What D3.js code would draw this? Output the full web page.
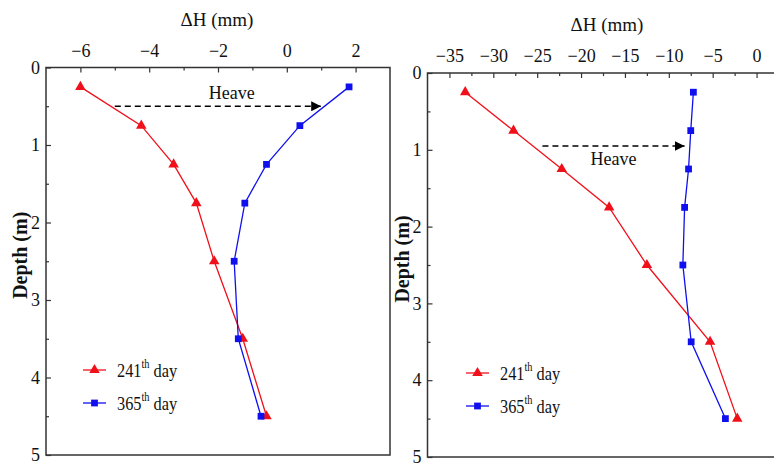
<!DOCTYPE html>
<html>
<head>
<meta charset="utf-8">
<script src="https://cdn.jsdelivr.net/npm/d3@7"></script>
<style>
  html, body { margin: 0; padding: 0; background: #fff; }
  svg { display: block; }
  svg text { font-family: "Liberation Serif", Tinos, "Times New Roman", "DejaVu Serif", serif !important; fill: #111; }
</style>
</head>
<body>
<svg id="chart" width="774" height="464"></svg>
<script>
// ---- data ----
const depths = [0.25, 0.75, 1.25, 1.75, 2.5, 3.5, 4.5];
const leftDay241 = [-6.0, -4.23, -3.29, -2.63, -2.11, -1.28, -0.59];
const leftDay365 = [1.81, 0.38, -0.59, -1.22, -1.53, -1.41, -0.75];
const rightDay241 = [-33.2, -27.7, -22.2, -16.8, -12.5, -5.3, -2.2];
const rightDay365 = [-7.2, -7.5, -7.75, -8.2, -8.4, -7.45, -3.55];
const leftXTicks = [-6, -4, -2, 0, 2];
const leftXMinor = [-7, -5, -3, -1, 1, 3];
const rightXTicks = [-35, -30, -25, -20, -15, -10, -5, 0];
const rightXMinor = [-32.5, -27.5, -22.5, -17.5, -12.5, -7.5, -2.5];
const yTicks = [0, 1, 2, 3, 4, 5];
const yMinor = [0.5, 1.5, 2.5, 3.5, 4.5];
const seriesNames = ["241", "365"];
const xTitle = "ΔH (mm)";
const yTitle = "Depth (m)";
const heaveLabel = "Heave";
const leftHeave = { x0: -5, x1: 1.0, y: 0.5, tx: -1.6, ty: 0.41 };
const rightHeave = { x0: -24.4, x1: -8.2, y: 0.95, tx: -16.3, ty: 1.2 };

const FONT = '"Liberation Serif", Tinos, "Times New Roman", "DejaVu Serif", serif';
const svg = d3.select("#chart");
const RED = "#f0101a", BLUE = "#1010ee", FRAME = "#333";

svg.append("defs").append("marker")
  .attr("id", "arrow").attr("viewBox", "0 0 10 10")
  .attr("refX", 10).attr("refY", 5)
  .attr("markerWidth", 10).attr("markerHeight", 10)
  .attr("markerUnits", "userSpaceOnUse")
  .attr("orient", "auto")
  .append("path").attr("d", "M0,0 L10,5 L0,10 Z").attr("fill", "#000");

function panel(cfg) {
  const x = d3.scaleLinear().domain(cfg.xDomain).range([cfg.left, cfg.right]);
  const y = d3.scaleLinear().domain([0, 5]).range([cfg.top, cfg.bottom]);
  const g = svg.append("g").attr("font-family", FONT);

  // frame
  g.append("rect").attr("x", cfg.left).attr("y", cfg.top)
    .attr("width", cfg.right - cfg.left).attr("height", cfg.bottom - cfg.top)
    .attr("fill", "none").attr("stroke", FRAME).attr("stroke-width", 1.5);

  // top axis (ticks inward)
  const xAxis = d3.axisTop(x).tickValues(cfg.xTicks).tickSizeInner(-5).tickSizeOuter(0)
    .tickPadding(12).tickFormat(d3.format("d"));
  const xa = g.append("g").attr("transform", `translate(0,${cfg.top})`).call(xAxis)
    .attr("font-family", FONT);
  xa.select(".domain").remove();
  xa.selectAll(".tick line").attr("stroke", FRAME).attr("stroke-width", 1.2);
  xa.selectAll(".tick text").attr("font-size", 18).attr("fill", "#111")
    .attr("dy", 0).attr("y", -cfg.xLabelOffset);
  const xm = d3.axisTop(x).tickValues(cfg.xMinor.filter(v => v > cfg.xDomain[0] && v < cfg.xDomain[1]))
    .tickSizeInner(-3).tickSizeOuter(0).tickFormat("");
  const xma = g.append("g").attr("transform", `translate(0,${cfg.top})`).call(xm);
  xma.select(".domain").remove();
  xma.selectAll(".tick line").attr("stroke", FRAME).attr("stroke-width", 1.2);

  // left axis
  const yAxis = d3.axisLeft(y).tickValues(yTicks).tickSizeInner(-5).tickSizeOuter(0)
    .tickPadding(10).tickFormat(d3.format("d"));
  const ya = g.append("g").attr("transform", `translate(${cfg.left},0)`).call(yAxis)
    .attr("font-family", FONT);
  ya.select(".domain").remove();
  ya.selectAll(".tick line").attr("stroke", FRAME).attr("stroke-width", 1.2);
  ya.selectAll(".tick text").attr("font-size", 18).attr("fill", "#111")
    .attr("x", -6);
  const ym = d3.axisLeft(y).tickValues(yMinor).tickSizeInner(-3).tickSizeOuter(0).tickFormat("");
  const yma = g.append("g").attr("transform", `translate(${cfg.left},0)`).call(ym);
  yma.select(".domain").remove();
  yma.selectAll(".tick line").attr("stroke", FRAME).attr("stroke-width", 1.2);

  // titles
  g.append("text").attr("x", cfg.titleX).attr("y", cfg.titleY)
    .attr("text-anchor", "middle").attr("font-size", 19).text(xTitle);
  g.append("text").attr("transform", `translate(${cfg.yTitleX},${(cfg.top + cfg.bottom) / 2 - 6}) rotate(-90)`)
    .attr("text-anchor", "middle").attr("dominant-baseline", "central")
    .attr("font-size", 20).attr("font-weight", "bold").text(yTitle);

  // series
  const series = [
    { vals: cfg.s241, color: RED, sym: d3.symbolTriangle, size: 48, name: seriesNames[0] },
    { vals: cfg.s365, color: BLUE, sym: d3.symbolSquare, size: 46, name: seriesNames[1] }
  ];
  const line = d3.line().x(d => x(d[0])).y(d => y(d[1]));
  series.forEach(s => {
    const pts = s.vals.map((v, i) => [v, depths[i]]);
    g.append("path").attr("d", line(pts)).attr("fill", "none")
      .attr("stroke", s.color).attr("stroke-width", 1.3);
    g.selectAll(null).data(pts).enter().append("path")
      .attr("d", d3.symbol().type(s.sym).size(s.size))
      .attr("transform", d => `translate(${x(d[0])},${y(d[1])})`)
      .attr("fill", s.color);
  });

  // heave arrow
  const h = cfg.heave;
  g.append("line").attr("x1", x(h.x0)).attr("x2", x(h.x1))
    .attr("y1", y(h.y)).attr("y2", y(h.y))
    .attr("stroke", "#000").attr("stroke-width", 1.5)
    .attr("stroke-dasharray", "6,4").attr("marker-end", "url(#arrow)");
  g.append("text").attr("x", x(h.tx)).attr("y", y(h.ty))
    .attr("text-anchor", "middle").attr("font-size", 18).text(heaveLabel);

  // legend
  series.forEach((s, i) => {
    const ly = cfg.legY + i * 33;
    const lg = g.append("g");
    lg.append("line").attr("x1", cfg.legX).attr("x2", cfg.legX + 23)
      .attr("y1", ly).attr("y2", ly).attr("stroke", s.color).attr("stroke-width", 1.3);
    lg.append("path").attr("d", d3.symbol().type(s.sym).size(s.size))
      .attr("transform", `translate(${cfg.legX + 11.5},${ly})`).attr("fill", s.color);
    const t = lg.append("text")
      .attr("transform", `translate(${cfg.legX + 34},${ly + 7}) scale(0.86,1)`)
      .attr("font-size", 19);
    t.append("tspan").text(s.name);
    t.append("tspan").attr("font-size", 12).attr("dy", -9).text("th");
    t.append("tspan").attr("dy", 9).text(" day");
  });
}

panel({
  left: 46, right: 390, top: 67.5, bottom: 455,
  xDomain: [-7, 3], xTicks: leftXTicks, xMinor: leftXMinor, xLabelOffset: 11,
  titleX: 217, titleY: 26, yTitleX: 20,
  s241: leftDay241, s365: leftDay365, heave: leftHeave,
  legX: 83, legY: 370
});
panel({
  left: 427.5, right: 778.5, top: 73, bottom: 457,
  xDomain: [-37.5, 2.5], xTicks: rightXTicks, xMinor: rightXMinor, xLabelOffset: 11,
  titleX: 607, titleY: 31, yTitleX: 402,
  s241: rightDay241, s365: rightDay365, heave: rightHeave,
  legX: 466, legY: 373
});
</script>
</body>
</html>
